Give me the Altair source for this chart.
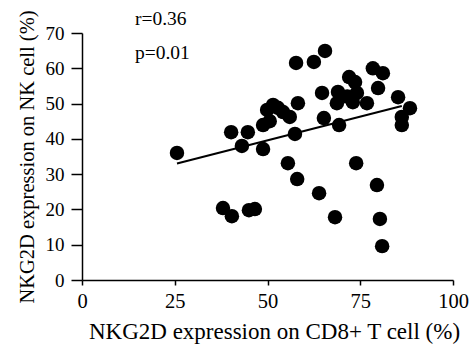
import altair as alt
import pandas as pd

cd8 = [25.6, 38.0, 40.4, 45.0, 46.6, 40.2, 44.7, 43.1, 48.8, 48.8,
       50.6, 49.9, 51.5, 54.2, 56.0, 52.8, 58.2, 57.4, 55.5, 58.0,
       63.9, 68.2, 73.9, 79.5, 80.3, 80.9, 57.7, 62.5, 65.5, 78.4,
       81.1, 72.0, 73.6, 79.8, 64.7, 69.0, 74.1, 68.7, 73.0, 76.8,
       71.5, 85.2, 88.4, 86.2, 86.2, 65.2, 69.3]
nk = [36.0, 20.4, 18.1, 19.8, 20.1, 41.9, 41.9, 38.0, 37.1, 43.9,
      45.0, 48.2, 49.6, 47.6, 46.2, 48.8, 50.1, 41.4, 33.1, 28.6,
      24.6, 17.8, 33.1, 26.9, 17.3, 9.6, 61.5, 61.8, 64.9, 60.0,
      58.6, 57.5, 56.1, 54.4, 53.0, 53.3, 53.0, 50.1, 50.4, 50.1,
      52.0, 51.8, 48.7, 46.2, 43.9, 45.9, 43.9]

fit_x = [25.6, 86.2]
fit_y = [33.0, 49.3]

stats = ["r=0.36", "p=0.01"]
x_ticks = [0, 25, 50, 75, 100]
y_ticks = [0, 10, 20, 30, 40, 50, 60, 70]

pts = pd.DataFrame({"cd8": cd8, "nk": nk})
fit = pd.DataFrame({"cd8": fit_x, "nk": fit_y})

FONT = "Liberation Serif"

xs = alt.Scale(domain=[0, 100], nice=False, zero=False)
ys = alt.Scale(domain=[0, 70], nice=False, zero=False)

xax = alt.Axis(values=x_ticks, title="NKG2D expression on CD8+ T cell (%)",
               labelFont=FONT, titleFont=FONT, tickSize=5,
               labelFontSize=20.5, labelPadding=6, titleFontSize=23, titlePadding=9,
               titleX=192, titleAlign="center")
yax = alt.Axis(values=y_ticks, title="NKG2D expression on NK cell (%)",
               labelFont=FONT, titleFont=FONT, tickSize=11,
               labelFontSize=19, labelPadding=7, titleFontSize=20.5, titlePadding=8)

points = alt.Chart(pts).mark_circle(size=210, color="black", opacity=1).encode(
    x=alt.X("cd8:Q", scale=xs, axis=xax),
    y=alt.Y("nk:Q", scale=ys, axis=yax),
)

line = alt.Chart(fit).mark_line(color="black", strokeWidth=2).encode(
    x=alt.X("cd8:Q", scale=xs, axis=xax),
    y=alt.Y("nk:Q", scale=ys, axis=yax),
)

t1 = alt.Chart(pd.DataFrame({"t": [stats[0]]})).mark_text(
    font=FONT, fontSize=19.5, align="left", baseline="alphabetic", color="black"
).encode(text="t:N", x=alt.value(53), y=alt.value(-8))
t2 = alt.Chart(pd.DataFrame({"t": [stats[1]]})).mark_text(
    font=FONT, fontSize=19.5, align="left", baseline="alphabetic", color="black"
).encode(text="t:N", x=alt.value(53), y=alt.value(26))

chart = alt.layer(points, line, t1, t2).properties(
    width=371, height=247,
    autosize=alt.AutoSizeParams(type="none"),
    padding={"left": 82, "top": 33, "right": 17, "bottom": 68},
    background="white",
).configure_view(stroke=None).configure_axis(
    grid=False, domainColor="black", domainWidth=1.5, tickColor="black",
    tickWidth=1.5, labelFont=FONT, labelColor="black",
    titleFont=FONT, titleFontWeight="normal", titleColor="black",
    labelFlush=False, labelOverlap=False,
)

chart.save("out.html", embed_options={"renderer": "svg", "actions": False})
